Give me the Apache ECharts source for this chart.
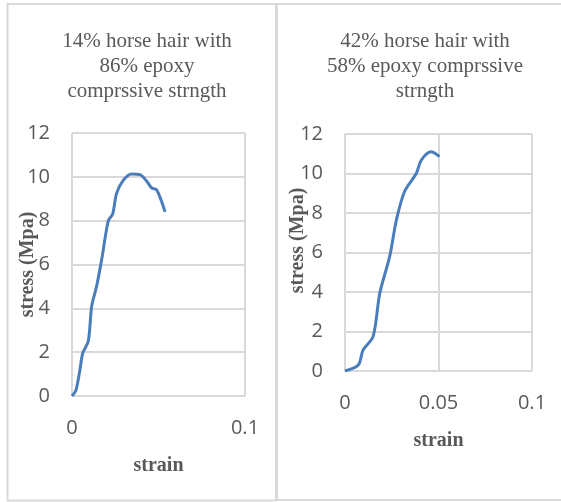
<!DOCTYPE html>
<html>
<head>
<meta charset="utf-8">
<script src="https://cdn.jsdelivr.net/npm/echarts@6/dist/echarts.min.js"></script>
<style>
  html, body { margin: 0; padding: 0; background: #fff; }
  #main { width: 561px; height: 502px; }
</style>
</head>
<body>
<div id="main"></div>
<script>
// titles of the two panels
var titles = [
  '14% horse hair with\n86% epoxy\ncomprssive strngth',
  '42% horse hair with\n58% epoxy comprssive\nstrngth'
];

// 14% horse hair - strain / stress (Mpa)
var strain14 = [0, 0.0023, 0.0046, 0.0062, 0.0094, 0.0114, 0.0142, 0.0171, 0.021, 0.0235, 0.0258, 0.0297, 0.0345, 0.0393, 0.0432, 0.046, 0.049, 0.0538];
var stress14 = [0, 0.27, 1.2, 1.95, 2.5, 4.1, 5.0, 6.2, 8.0, 8.3, 9.25, 9.85, 10.13, 10.1, 9.8, 9.5, 9.4, 8.4];

// 42% horse hair
var strain42 = [0, 0.0071, 0.0097, 0.015, 0.0186, 0.0239, 0.0275, 0.0319, 0.0381, 0.0408, 0.0461, 0.0505];
var stress42 = [0, 0.3, 1.07, 1.74, 3.94, 5.8, 7.65, 9.1, 10.0, 10.68, 11.1, 10.85];

var xInterval = [0.1, 0.05];

function pairs(xs, ys) {
  var out = [];
  for (var i = 0; i < xs.length; i++) out.push([xs[i], ys[i]]);
  return out;
}

var grey = '#595959';
var gridLine = '#d9d9d9';
var serif = '"Liberation Serif", "Times New Roman", serif';
var sans = '"Open Sans", sans-serif';

function xAxisFor(idx) {
  return {
    type: 'value', gridIndex: idx, min: 0, max: 0.1, interval: xInterval[idx],
    name: 'strain', nameLocation: 'middle', nameGap: 60, nameMoveOverlap: false,
    nameTextStyle: { fontFamily: serif, fontWeight: 'bold', fontSize: 20, color: grey },
    axisLine: { show: false }, axisTick: { show: false },
    axisLabel: { margin: 22, fontFamily: sans, fontSize: 20, color: grey },
    splitLine: { show: true, lineStyle: { color: gridLine, width: 2 } }
  };
}

function yAxisFor(idx, gap, pad) {
  return {
    type: 'value', gridIndex: idx, min: 0, max: 12, interval: 2,
    name: 'stress (Mpa)', nameLocation: 'middle', nameGap: gap, nameMoveOverlap: false,
    nameTextStyle: { fontFamily: serif, fontWeight: 'bold', fontSize: 20, color: grey, padding: pad },
    axisLine: { show: false }, axisTick: { show: false },
    axisLabel: { margin: 22, fontFamily: sans, fontSize: 20, color: grey },
    splitLine: { show: true, lineStyle: { color: gridLine, width: 2 } }
  };
}

var chart = echarts.init(document.getElementById('main'));
chart.setOption({
  backgroundColor: '#fff',
  animation: false,
  graphic: [
    { type: 'rect', shape: { x: 7.5, y: 4, width: 268.5, height: 496.5 },
      style: { fill: 'none', stroke: gridLine, lineWidth: 2 }, z: -1 },
    { type: 'polyline', shape: { points: [[562, 4], [277, 4], [277, 500], [562, 500]] },
      style: { fill: 'none', stroke: gridLine, lineWidth: 2 }, z: -1 }
  ],
  title: [
    { text: titles[0], left: 142, top: 24, textAlign: 'center',
      textStyle: { fontFamily: serif, fontWeight: 'normal', fontSize: 21, lineHeight: 25, color: grey } },
    { text: titles[1], left: 420, top: 24, textAlign: 'center',
      textStyle: { fontFamily: serif, fontWeight: 'normal', fontSize: 21, lineHeight: 25, color: grey } }
  ],
  grid: [
    { left: 72, top: 133, width: 173, height: 263 },
    { left: 345, top: 134, width: 187, height: 237 }
  ],
  xAxis: [xAxisFor(0), xAxisFor(1)],
  yAxis: [yAxisFor(0, 34, [0, 0, 0, 0]), yAxisFor(1, 37, [0, 0, 0, 24])],
  series: [
    { type: 'line', xAxisIndex: 0, yAxisIndex: 0, data: pairs(strain14, stress14),
      smooth: 0.3, showSymbol: false, lineStyle: { color: '#4a7ebb', width: 3 } },
    { type: 'line', xAxisIndex: 1, yAxisIndex: 1, data: pairs(strain42, stress42),
      smooth: 0.3, showSymbol: false, lineStyle: { color: '#4a7ebb', width: 3 } }
  ]
});
</script>
</body>
</html>
